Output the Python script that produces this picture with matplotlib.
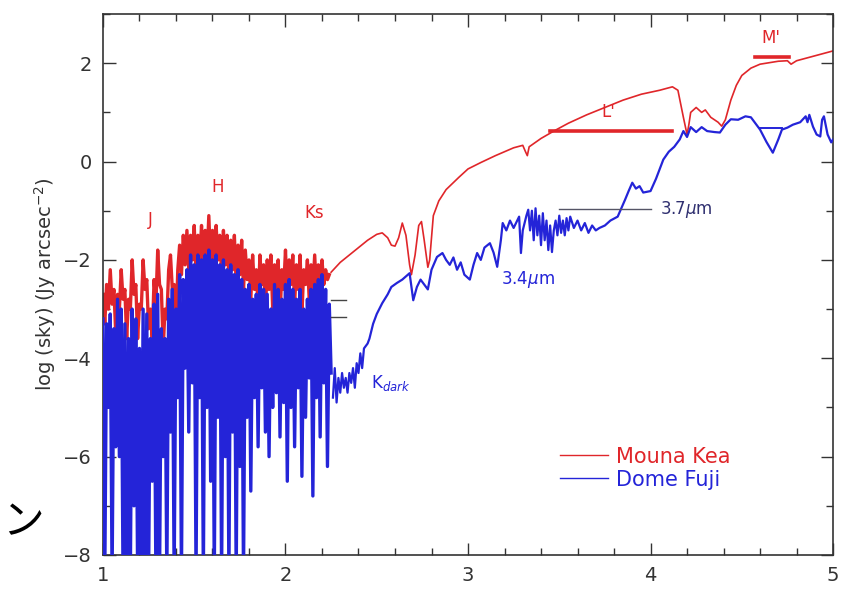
import numpy as np
import matplotlib
matplotlib.use("Agg")
import matplotlib.pyplot as plt
from matplotlib.ticker import MultipleLocator

# sky spectra, log(sky) in Jy arcsec^-2 vs wavelength in micron
# dense OH / absorption region sampled every 0.01 um
dense_red_x = np.round(np.arange(1.00, 2.245, 0.01), 2)
dense_red_y = [
    -2.7, -3.3, -2.5, -3.0, -2.2, -2.9, -2.6, -3.5, -2.7, -3.0,
    -2.2, -2.8, -2.6, -3.6, -2.8, -3.0, -2.0, -2.7, -2.5, -3.6,
    -2.9, -3.0, -2.0, -2.6, -2.4, -3.4, -3.0, -3.6, -2.4, -2.9,
    -1.8, -2.5, -2.6, -3.8, -3.0, -3.2, -2.2, -1.9, -2.6, -2.5,
    -3.4, -2.2, -1.7, -2.3, -1.5, -2.1, -1.4, -2.2, -1.5, -2.0,
    -1.3, -2.3, -1.5, -2.0, -1.3, -2.2, -1.4, -2.0, -1.1, -2.1,
    -1.4, -2.2, -1.3, -2.0, -1.5, -2.3, -1.4, -2.1, -1.5, -2.4,
    -1.6, -2.2, -1.5, -2.5, -1.7, -2.3, -1.6, -2.6, -1.8, -2.4,
    -2.0, -2.8, -1.9, -2.6, -2.2, -3.0, -1.9, -2.5, -2.1, -3.1,
    -2.0, -2.6, -1.9, -3.0, -2.1, -2.8, -2.0, -3.2, -2.2, -2.6,
    -1.8, -2.8, -2.0, -2.5, -1.9, -2.9, -2.1, -2.6, -1.9, -3.1,
    -2.2, -2.5, -2.0, -2.8, -2.1, -2.6, -1.9, -2.7, -2.1, -2.4,
    -2.0, -2.5, -2.2, -2.4, -2.3,
]
dense_blue_x = np.round(np.arange(1.00, 2.255, 0.01), 2)
dense_blue_y = [
    -3.2, -8.5, -3.3, -5.0, -3.1, -8.5, -3.4, -5.8, -2.8, -6.0,
    -3.0, -8.5, -3.3, -8.5, -3.6, -8.5, -3.0, -7.0, -3.2, -8.5,
    -3.8, -8.5, -3.0, -8.5, -3.1, -8.5, -3.6, -6.5, -2.9, -8.5,
    -2.7, -8.5, -3.4, -6.0, -3.6, -8.5, -2.8, -5.5, -2.6, -8.5,
    -3.0, -4.8, -2.3, -8.5, -2.4, -4.2, -2.2, -5.5, -1.9, -4.5,
    -2.1, -8.5, -1.9, -4.8, -2.0, -8.5, -1.9, -5.0, -1.8, -6.5,
    -2.0, -8.5, -1.9, -5.2, -2.1, -8.5, -2.0, -6.0, -2.2, -8.5,
    -2.1, -5.5, -2.3, -8.5, -2.2, -6.2, -2.4, -8.5, -2.6, -5.2,
    -2.5, -6.7, -2.8, -4.8, -2.7, -5.8, -2.5, -4.6, -2.6, -5.5,
    -2.7, -6.0, -3.0, -5.0, -2.5, -4.7, -2.6, -5.6, -2.8, -4.9,
    -2.5, -6.5, -2.4, -5.0, -2.6, -5.8, -2.8, -4.6, -2.6, -6.4,
    -3.0, -5.2, -2.8, -4.4, -2.6, -6.8, -2.5, -4.8, -2.4, -5.6,
    -2.3, -4.5, -2.6, -6.2, -2.9, -4.3,
]

# smooth thermal part beyond 2.25 um
red_x = [2.25, 2.30, 2.35, 2.40, 2.45, 2.50, 2.53, 2.56, 2.58, 2.60,
         2.62, 2.64, 2.66, 2.68, 2.69, 2.71, 2.73, 2.745, 2.76, 2.78,
         2.79, 2.81, 2.84, 2.88, 2.95, 3.00, 3.07, 3.15, 3.25, 3.30,
         3.315, 3.325, 3.335, 3.40, 3.47, 3.55, 3.65, 3.75, 3.85, 3.95,
         4.05, 4.12, 4.15, 4.18, 4.20, 4.21, 4.22, 4.25, 4.28, 4.30,
         4.33, 4.37, 4.39, 4.41, 4.44, 4.47, 4.50, 4.55, 4.60, 4.70,
         4.75, 4.77, 4.80, 4.90, 5.00]
red_y = [-2.25, -2.05, -1.9, -1.75, -1.6, -1.48, -1.45, -1.55, -1.7, -1.72,
         -1.55, -1.25, -1.5, -2.1, -2.3, -1.9, -1.3, -1.22, -1.6, -2.15,
         -2.0, -1.1, -0.8, -0.57, -0.32, -0.15, -0.02, 0.12, 0.28, 0.33,
         0.2, 0.12, 0.3, 0.47, 0.62, 0.78, 0.95, 1.1, 1.25, 1.37,
         1.45, 1.52, 1.45, 0.9, 0.55, 0.75, 1.0, 1.1, 1.0, 1.05,
         0.9, 0.8, 0.72, 0.85, 1.25, 1.55, 1.75, 1.9, 1.98, 2.04,
         2.05, 1.98, 2.05, 2.15, 2.25]

blue_x = [2.26, 2.27, 2.28, 2.29, 2.30, 2.31, 2.32, 2.33, 2.34, 2.35,
          2.36, 2.37, 2.38, 2.39, 2.40, 2.41, 2.42, 2.43, 2.45, 2.46,
          2.48, 2.50, 2.53, 2.56, 2.58, 2.61, 2.64, 2.68, 2.70, 2.72,
          2.74, 2.76, 2.78, 2.80, 2.83, 2.86, 2.88, 2.90, 2.92, 2.94,
          2.96, 2.98, 3.01, 3.03, 3.05, 3.07, 3.09, 3.12, 3.14, 3.16,
          3.18, 3.19, 3.21, 3.23, 3.25, 3.28, 3.29, 3.30, 3.32, 3.33,
          3.34, 3.35, 3.36, 3.37, 3.38, 3.39, 3.40, 3.41, 3.42, 3.43,
          3.44, 3.45, 3.46, 3.47, 3.48, 3.49, 3.50, 3.51, 3.52, 3.53,
          3.54, 3.55, 3.56, 3.58, 3.60, 3.62, 3.64, 3.66, 3.68, 3.70,
          3.72, 3.75, 3.78, 3.82, 3.84, 3.86, 3.88, 3.90, 3.92, 3.94,
          3.96, 4.00, 4.03, 4.07, 4.10, 4.13, 4.16, 4.18, 4.20, 4.22,
          4.25, 4.28, 4.31, 4.35, 4.38, 4.41, 4.44, 4.48, 4.52, 4.55,
          4.58, 4.60, 4.635, 4.67, 4.70, 4.72, 4.75, 4.78, 4.82, 4.85,
          4.86, 4.87, 4.89, 4.91, 4.93, 4.94, 4.95, 4.97, 4.99, 5.00]
blue_y = [-4.8, -4.2, -4.9, -4.4, -4.7, -4.3, -4.6, -4.4, -4.7, -4.3,
          -4.5, -4.2, -4.6, -4.1, -4.3, -3.9, -4.2, -3.8, -3.7, -3.6,
          -3.3, -3.1, -2.88, -2.7, -2.55, -2.47, -2.4, -2.27, -2.82, -2.55,
          -2.4, -2.5, -2.6, -2.2, -1.94, -1.86, -2.0, -2.1, -1.95, -2.2,
          -2.05, -2.3, -2.4, -2.1, -1.86, -2.0, -1.75, -1.66, -1.85, -2.14,
          -1.6, -1.25, -1.4, -1.2, -1.35, -1.12, -1.86, -1.4, -1.1, -0.98,
          -1.4, -1.0, -1.6, -0.95, -1.5, -1.1, -1.7, -1.05, -1.6, -1.2,
          -1.8, -1.3, -1.84, -1.4, -1.2, -1.5, -1.1, -1.45, -1.2, -1.5,
          -1.15, -1.4, -1.12, -1.35, -1.2, -1.4, -1.25, -1.45, -1.3, -1.4,
          -1.35, -1.3, -1.2, -1.12, -0.95, -0.78, -0.6, -0.43, -0.55, -0.5,
          -0.63, -0.6, -0.35, 0.04, 0.2, 0.3, 0.45, 0.62, 0.5, 0.7,
          0.6, 0.7, 0.62, 0.6, 0.59, 0.75, 0.86, 0.85, 0.92, 0.9,
          0.75, 0.65, 0.4, 0.18, 0.45, 0.65, 0.69, 0.75, 0.8, 0.92,
          0.8, 0.95, 0.71, 0.55, 0.51, 0.85, 0.92, 0.55, 0.39, 0.45]

# filter bands / markers
lp_band = [3.45, 4.12]
lp_level = 0.63
mp_band = [4.57, 4.76]
mp_level = 2.12
line37_x = [3.50, 4.00]
line37_y = -0.96
kdark_marks_x = [2.25, 2.33]
kdark_marks_y = [-2.82, -3.16]
blue_flat_x = [4.60, 4.72]
blue_flat_y = 0.68

RED = "#e0262a"
BLUE = "#2424d8"

fig = plt.figure(figsize=(8.46, 6.10), dpi=100)
ax = fig.add_axes([0.1217, 0.0902, 0.863, 0.8868])

ax.plot(dense_red_x, dense_red_y, color=RED, linewidth=2.4, zorder=2)
ax.plot(red_x, red_y, color=RED, linewidth=1.2, zorder=2, label="Mouna Kea")
ax.plot(dense_blue_x, dense_blue_y, color=BLUE, linewidth=2.4, zorder=3)
ax.plot(blue_x, blue_y, color=BLUE, linewidth=1.6, zorder=3, label="Dome Fuji")
ax.plot(blue_flat_x, [blue_flat_y, blue_flat_y], color=BLUE, linewidth=1.4, zorder=3)

ax.plot(lp_band, [lp_level, lp_level], color=RED, linewidth=2.6, zorder=4)
ax.plot(mp_band, [mp_level, mp_level], color=RED, linewidth=2.6, zorder=4)
ax.plot(line37_x, [line37_y, line37_y], color="#555566", linewidth=1.0, zorder=4)
for yv in kdark_marks_y:
    ax.plot(kdark_marks_x, [yv, yv], color="#444444", linewidth=1.0, zorder=4)

lab_kw = dict(fontsize=12, ha="center", va="center")
ax.text(1.26, -1.18, "J", color=RED, **lab_kw)
ax.text(1.63, -0.51, "H", color=RED, **lab_kw)
ax.text(2.16, -1.04, "Ks", color=RED, **lab_kw)
ax.text(3.77, 1.0, "L'", color=RED, **lab_kw)
ax.text(4.66, 2.52, "M'", color=RED, **lab_kw)
ax.text(4.05, -0.98, r"3.7$\mu$m", color="#303070", fontsize=12, ha="left", va="center")
ax.text(3.18, -2.4, r"3.4$\mu$m", color=BLUE, fontsize=12, ha="left", va="center")
ax.text(2.47, -4.5, r"K$_{dark}$", color=BLUE, fontsize=12, ha="left", va="center")

leg = ax.legend(loc="upper left", bbox_to_anchor=(0.6, 0.235), frameon=False,
                fontsize=15, handlelength=2.3, handletextpad=0.4,
                labelspacing=0.15, labelcolor="linecolor")
for h in leg.get_lines():
    h.set_linewidth(1.0)

ax.set_xlim(1, 5)
ax.set_ylim(-8, 3)
ax.xaxis.set_major_locator(MultipleLocator(1))
ax.xaxis.set_minor_locator(MultipleLocator(0.2))
ax.yaxis.set_major_locator(MultipleLocator(2))
ax.yaxis.set_minor_locator(MultipleLocator(1))
ax.tick_params(which="both", direction="in", top=True, right=True,
               labelsize=14, colors="#333333", pad=8)
ax.tick_params(which="major", length=9, width=1.0)
ax.tick_params(which="minor", length=5, width=1.0)
for sp in ax.spines.values():
    sp.set_color("#333333")
    sp.set_linewidth(1.2)
ax.set_ylabel(r"log (sky) (Jy arcsec$^{-2}$)", fontsize=14, color="#333333")

# stray character from the slide edge
fig.text(0.002, 0.143, "ン", fontsize=30, ha="left", va="center",
         family=["Noto Sans CJK JP", "DejaVu Sans"], color="black")

fig.savefig("out.png", dpi=100)
